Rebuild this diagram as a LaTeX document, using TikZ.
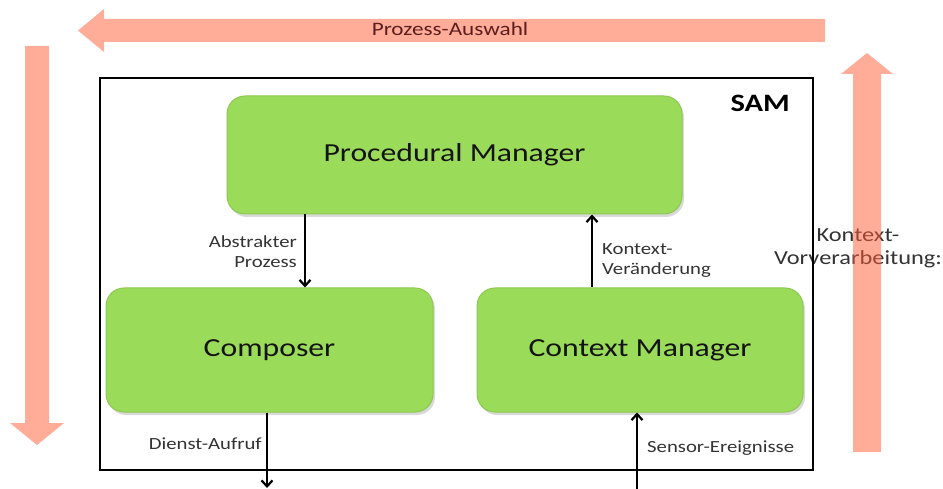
\documentclass[tikz,border=0pt]{standalone}
\usepackage{fontspec}
\setmainfont{Carlito}
\usepackage{graphicx}
\usetikzlibrary{arrows.meta,shadows}

\definecolor{boxgreen}{HTML}{9BDB5A}
\definecolor{boxedge}{HTML}{8CC84F}
\definecolor{flow}{HTML}{FF5B33}
\definecolor{labelgray}{HTML}{333333}
\definecolor{boxtext}{HTML}{141414}
\definecolor{flowtext}{HTML}{5C1E1E}

% wide-set text and stacked lines
\newcommand{\wide}[1]{\scalebox{1.22}[1]{#1}}
\newcommand{\lines}[2]{\begin{tabular}[t]{@{}#1@{}}#2\end{tabular}}

\begin{document}
\begin{tikzpicture}[x=1pt,y=-1pt,
  module/.style={draw=boxedge, line width=1pt, fill=boxgreen,
    rounded corners=18pt, inner sep=0pt, text=boxtext,
    font=\fontsize{26}{30}\selectfont,
    drop shadow={shadow xshift=2pt, shadow yshift=-3pt, opacity=0.3}},
  conn/.style={line width=2.2pt, -{Straight Barb[length=6pt,width=11pt]}},
  lbl/.style={inner sep=0pt, text=labelgray, font=\fontsize{17}{20}\selectfont},
  flowarrow/.style={fill=flow, fill opacity=0.5, draw=none}]

\useasboundingbox (0,0) rectangle (943,489);

% side label, partly covered by the frame and the flow arrow
\node[inner sep=0pt, anchor=base, text=labelgray,
  font=\fontsize{20}{23}\selectfont] (pre) at (858,242)
  {\wide{\lines{c}{Kontext-\\Vorverarbeitung:}}};

% system frame
\node[draw, line width=2pt, minimum width=713, minimum height=392,
  inner sep=0pt] (sam) at (456.5,274) {};
\node[inner sep=0pt, anchor=base east, font=\fontsize{25}{30}\selectfont\bfseries]
  (samlabel) at (790,112) {\wide{SAM}};

% modules
\node[module, minimum width=455, minimum height=118] (pm) at (454.5,155)
  {\wide{Procedural Manager}};
\node[module, minimum width=327, minimum height=124] (comp) at (269.5,350)
  {\wide{Composer}};
\node[module, minimum width=326, minimum height=124] (cm) at (640,350)
  {\wide{Context Manager}};

% connector columns and free ends
\coordinate (xabs) at (305,0);
\coordinate (xchg) at (592,0);
\coordinate (out) at (267,488);
\coordinate (in) at (637,489);

\draw[conn] (pm.south -| xabs) -- (comp.north -| xabs);
\draw[conn] (cm.north -| xchg) -- (pm.south -| xchg);
\draw[conn] (comp.south -| out) -- (out);
\draw[conn] (in) -- (cm.south -| in);

% connector labels
\node[lbl, anchor=base east] (labs) at (297,248)
  {\wide{\lines{r}{Abstrakter\\Prozess}}};
\node[lbl, anchor=base west] (lchg) at (602,255)
  {\wide{\lines{l}{Kontext-\\Veränderung}}};
\node[lbl, anchor=base east] (lout) at (262,449) {\wide{Dienst-Aufruf}};
\node[lbl, anchor=base west] (lin) at (647,452) {\wide{Sensor-Ereignisse}};

% large flow arrows
\fill[flowarrow] (825,19) -- (104,19) -- (104,9) -- (78,30.5) -- (104,52)
  -- (104,42) -- (825,42) -- cycle;
\fill[flowarrow] (25,46) -- (49,46) -- (49,423) -- (64,423) -- (37,445)
  -- (10,423) -- (25,423) -- cycle;
\fill[flowarrow] (853,452) -- (853,74) -- (841,74) -- (867,53) -- (893,74)
  -- (881,74) -- (881,452) -- cycle;

\node[inner sep=0pt, anchor=base, text=flowtext,
  font=\fontsize{19}{22}\selectfont] (sel) at (450,36) {\wide{Prozess-Auswahl}};

\end{tikzpicture}
\end{document}
